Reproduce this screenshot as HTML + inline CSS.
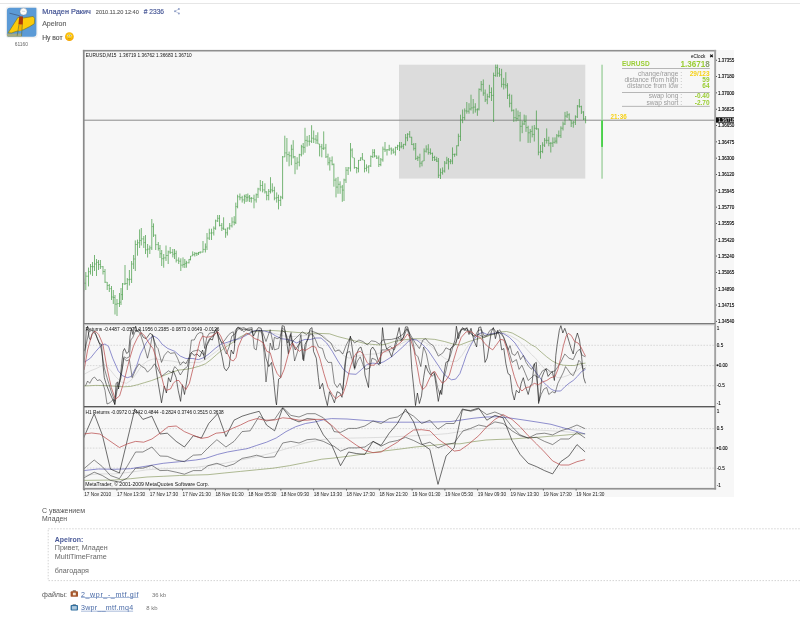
<!DOCTYPE html>
<html><head><meta charset="utf-8"><title>forum post</title>
<style>
html,body{margin:0;padding:0;background:#fff;}
body{width:800px;height:617px;position:relative;overflow:hidden;font-family:"Liberation Sans",sans-serif;color:#555;}
.a{position:absolute;white-space:nowrap;line-height:1;will-change:transform;}
svg text{font-family:"Liberation Sans",sans-serif;}
.lk{font-size:7.2px;color:#40609f;text-decoration:underline;text-decoration-thickness:0.55px;text-underline-offset:1px;}
</style></head><body>
<div class="a" style="left:0;top:2.6px;width:800px;height:1px;background:#e6e6e6"></div>
<svg class="a" style="left:0;top:0" width="800" height="617" viewBox="0 0 800 617">
<!-- avatar -->
<rect x="5.7" y="6.6" width="32" height="31.6" rx="3.4" fill="#f1f1f1"/>
<clipPath id="av"><path d="M9.9 7.8H35.6A0.8 0.8 0 0 1 36.4 8.6V33.5A3.2 3.2 0 0 1 33.199999999999996 36.7H8.3A1.4 1.4 0 0 1 6.9 35.300000000000004V10.8A3.0 3.0 0 0 1 9.9 7.8Z"/></clipPath>
<g clip-path="url(#av)">
<rect x="6" y="7" width="32" height="31" fill="#5b9ad6"/>
<path d="M6 33.7 L21.5 33.5 L22 37 L6 37 Z" fill="#a5aa82"/>
<path d="M8.2 32.8 L18 17.3 L23.3 18 L33.2 16.4 L34.7 18.6 L34.3 23.8 L29.7 26.6 L23.3 29.8 L15.7 31.5 L11.6 33 Z" fill="#fccb0a" stroke="#7a7a2a" stroke-width="0.7" stroke-linejoin="round"/>
<path d="M19.3 16.2 L23 16.6 L22.8 24.8 L18.4 24.6 Z" fill="#a8380c"/>
<path d="M18.9 24.8 L18.4 31 L21.9 30.6 L22.3 24.8 Z" fill="#f5b400"/>
<path d="M9.5 13.2 L19.8 15.8" stroke="#3a4a6a" stroke-width="0.6"/>
<path d="M18.9 24.8 L17.2 35.8 M22.3 24.8 L21.5 36" stroke="#5a6a3a" stroke-width="0.6"/>
<circle cx="23.5" cy="11.6" r="3.5" fill="#fdfdfd" stroke="#8a8a8a" stroke-width="0.4"/>
<path d="M21.8 11.2 L25.2 11.4" stroke="#aaa" stroke-width="0.4"/>
</g>
<text x="21.4" y="46" font-size="4.9" fill="#666" text-anchor="middle">61160</text>
<!-- smiley -->
<defs><radialGradient id="sm" cx="0.5" cy="0.42" r="0.55"><stop offset="0" stop-color="#ffe040"/><stop offset="0.6" stop-color="#fbc20a"/><stop offset="1" stop-color="#f3a000"/></radialGradient></defs>
<circle cx="69.4" cy="36.7" r="4.35" fill="url(#sm)"/>
<ellipse cx="68.2" cy="35.6" rx="0.95" ry="0.85" fill="#fff6d0"/><ellipse cx="70.6" cy="35.6" rx="0.95" ry="0.85" fill="#fff6d0"/>
<circle cx="68.3" cy="35.7" r="0.5" fill="#6a6a6a"/><circle cx="70.5" cy="35.7" r="0.5" fill="#6a6a6a"/>
<path d="M68.1 38.5 Q69.4 39 70.7 38.5" stroke="#b07a00" stroke-width="0.55" fill="none"/>
<!-- share icon -->
<g fill="#93a2c8"><circle cx="175" cy="11.2" r="1"/><circle cx="178.9" cy="9" r="1"/><circle cx="178.9" cy="13.4" r="1"/></g>
<path d="M178.9 9L175 11.2L178.9 13.4" stroke="#93a2c8" stroke-width="0.55" fill="none"/>
<rect x="83" y="50" width="651" height="447" fill="#f7f7f7"/>
<rect x="399" y="64.7" width="186.3" height="113.9" fill="#dcdcdc"/>
<rect x="84" y="119.7" width="631" height="1" fill="#8c8c8c"/>
<rect x="601.3" y="64.7" width="1.5" height="114" fill="#a6d3a6"/>
<rect x="601.2" y="120.4" width="1.7" height="26.5" fill="#3fd03f"/>
<path d="M83.7 278.7V291.5M85.8 272.0V290.0M88.5 267.6V286.4M90.5 264.0V274.5M92.5 262.0V276.0M94.5 255.0V271.0M96.5 259.0V276.0M98.5 260.0V270.0M100.4 260.0V269.0M103.0 266.0V274.5M105.0 269.0V283.0M107.2 282.0V290.0M109.3 284.0V292.0M111.5 286.0V300.0M113.3 290.0V304.0M115.0 295.0V314.5M117.0 299.0V316.0M119.5 293.0V307.0M121.0 288.0V305.0M122.5 283.0V300.0M125.0 265.0V285.0M127.3 278.0V290.0M129.4 270.0V285.5M131.6 261.0V283.0M133.6 255.0V269.0M135.3 240.4V271.0M137.5 239.6V255.7M139.6 229.4V248.0M141.3 228.0V245.5M143.8 236.0V248.0M145.5 235.0V254.0M147.6 244.0V257.5M149.8 245.5V254.0M151.8 219.0V250.0M153.5 223.4V237.0M155.7 234.5V250.0M158.3 242.0V250.6M160.0 245.0V258.0M161.7 250.0V266.0M163.7 254.0V267.7M166.0 245.5V261.0M168.2 250.6V264.0M170.2 247.0V254.0M172.8 249.0V257.4M174.5 249.0V259.0M176.2 250.6V262.5M178.7 257.4V264.0M180.8 258.3V271.0M183.0 257.4V267.7M184.8 259.0V268.0M186.4 260.8V267.7M189.0 259.0V263.4M190.5 256.0V260.4M192.7 251.4V256.0M194.8 252.0V256.5M196.8 252.5V256.0M198.5 252.0V255.0M200.2 251.4V253.6M203.0 241.0V252.5M205.4 243.4V252.5M207.0 233.0V250.0M209.3 228.7V240.0M211.5 228.7V240.0M213.8 226.4V235.5M215.6 219.6V229.8M217.7 215.0V222.0M219.5 215.0V226.4M221.8 223.0V231.0M223.6 217.3V229.8M225.6 228.7V237.8M227.4 227.5V235.5M229.7 223.0V229.8M232.0 217.3V227.5M234.2 216.2V225.3M235.8 202.6V224.0M237.6 194.7V208.3M239.9 193.5V200.3M242.2 195.8V202.6M244.4 194.7V203.7M246.1 194.0V202.0M247.8 193.5V201.5M249.6 195.0V202.0M251.3 197.0V202.6M254.0 194.7V208.3M256.2 193.5V202.6M258.0 187.8V198.0M260.3 180.0V191.3M262.6 181.0V192.4M264.9 183.3V193.5M266.7 191.3V200.3M268.7 189.0V200.3M270.5 177.2V193.5M272.3 183.3V192.4M274.4 186.7V200.3M276.7 192.4V202.6M278.5 194.7V209.4M280.7 195.8V206.0M282.6 156.0V199.2M284.8 135.7V157.2M286.9 138.0V161.8M289.1 151.6V166.3M291.4 144.7V165.2M293.2 140.2V158.4M295.0 156.0V174.2M297.1 157.2V169.7M299.3 153.8V166.3M301.4 144.8V156.4M303.2 143.0V154.6M305.0 127.8V152.8M307.1 135.9V146.6M309.3 135.0V145.7M311.6 125.2V143.0M313.7 130.5V143.0M316.0 135.0V143.9M317.8 132.3V143.9M319.6 143.9V156.4M321.8 143.9V157.3M323.7 131.4V150.0M325.9 143.9V158.0M328.0 153.7V165.3M329.8 157.3V170.6M332.1 156.4V165.3M333.9 163.5V186.7M336.0 177.8V197.4M338.0 176.9V193.8M340.1 181.3V193.8M342.3 184.9V201.8M344.0 178.7V201.0M346.0 167.0V183.0M348.1 167.0V175.0M350.5 143.0V171.5M352.2 148.3V157.3M354.4 158.0V168.8M356.7 167.0V173.3M358.5 160.0V172.4M360.6 157.3V160.8M362.4 153.0V160.0M364.5 160.0V172.4M366.5 164.4V171.5M368.7 165.3V173.3M370.8 155.5V167.0M372.8 149.2V158.0M374.5 149.2V157.3M376.7 155.5V159.0M378.8 155.5V167.0M380.8 158.0V166.2M382.9 146.6V161.7M385.0 142.0V152.0M387.0 149.2V155.5M389.2 144.8V151.0M391.3 147.4V154.6M393.3 148.3V153.7M395.4 146.6V155.5M397.5 144.8V150.0M399.5 142.0V151.0M401.3 142.0V148.3M403.4 143.9V149.2M405.6 134.0V145.7M407.5 133.2V141.2M409.7 131.0V137.6M411.7 136.8V145.0M413.8 143.0V150.5M415.7 143.0V160.0M417.8 155.8V161.0M419.9 153.7V167.4M422.0 161.0V166.3M424.1 148.4V161.0M426.2 145.3V152.6M428.3 144.2V154.7M430.4 148.4V154.7M432.5 152.6V161.0M434.6 155.8V161.0M436.7 156.8V162.0M438.4 158.0V178.0M440.5 168.4V179.0M442.6 167.4V174.7M444.7 161.0V172.6M446.8 156.8V164.2M448.5 158.0V169.5M450.6 159.0V164.2M452.5 147.4V164.2M454.6 153.7V156.8M456.7 145.3V155.8M458.4 133.7V146.3M460.5 114.7V141.0M462.6 109.5V123.2M464.7 108.4V120.0M466.8 102.0V113.7M469.0 103.2V113.7M471.0 94.7V110.5M473.2 99.0V113.7M475.3 103.2V112.6M477.4 108.4V115.8M479.0 88.4V110.5M481.2 81.0V91.6M483.3 79.4V95.8M485.2 89.5V102.0M487.3 93.7V104.2M489.4 84.8V97.9M491.5 87.4V101.0M493.6 72.6V122.0M495.7 64.6V76.8M497.4 64.6V76.8M499.5 68.0V76.8M501.6 68.8V87.4M503.7 77.9V89.5M505.8 72.2V88.4M507.5 83.2V99.0M509.6 93.7V107.4M511.7 94.7V111.6M513.8 109.5V122.0M516.1 108.4V121.5M518.0 110.5V120.8M520.1 111.9V141.5M522.2 120.8V133.2M524.2 114.6V125.0M526.0 115.3V131.9M528.1 125.7V142.9M530.2 129.0V142.9M532.2 125.7V137.4M534.3 125.0V141.5M536.4 110.5V129.8M538.4 128.4V155.3M540.5 145.0V158.7M542.6 142.2V153.2M544.6 138.0V147.0M546.7 128.4V143.6M548.8 136.7V146.3M550.8 142.2V152.5M552.9 137.4V147.0M555.0 137.4V143.6M556.8 134.0V143.6M558.8 130.5V137.4M560.9 126.3V138.0M563.0 121.5V130.5M565.0 111.9V125.0M567.1 111.2V118.0M569.2 113.3V120.0M571.2 120.0V127.0M573.3 120.8V127.7M575.4 115.3V125.0M577.4 105.0V118.0M579.4 99.0V107.7M581.4 105.7V114.0M583.5 111.2V120.0M585.6 116.0V123.3" stroke="#3f9a3f" stroke-width="0.9" stroke-opacity="0.78" fill="none"/>
<path d="M83.7 283.2H85.8M85.8 276.2H88.5M88.5 271.7H90.5M90.5 266.6H92.5M92.5 266.7H94.5M94.5 264.0H96.5M96.5 262.3H98.5M98.5 264.5H100.4M100.4 266.7H103.0M103.0 271.5H105.0M105.0 282.2H107.2M107.2 285.5H109.3M109.3 288.7H111.5M111.5 297.0H113.3M113.3 297.5H115.0M115.0 304.2H117.0M117.0 303.6H119.5M119.5 302.2H121.0M121.0 294.6H122.5M122.5 283.9H125.0M125.0 283.5H127.3M127.3 279.7H129.4M129.4 279.3H131.6M131.6 264.0H133.6M133.6 259.0H135.3M135.3 244.5H137.5M137.5 242.8H139.6M139.6 240.5H141.3M141.3 238.9H143.8M143.8 242.6H145.5M145.5 249.8H147.6M147.6 249.1H149.8M149.8 247.9H151.8M151.8 226.6H153.5M153.5 235.1H155.7M155.7 244.6H158.3M158.3 248.4H160.0M160.0 253.7H161.7M161.7 258.7H163.7M163.7 257.9H166.0M166.0 255.5H168.2M168.2 251.9H170.2M170.2 252.4H172.8M172.8 254.2H174.5M174.5 253.5H176.2M176.2 260.2H178.7M178.7 261.2H180.8M180.8 265.1H183.0M183.0 264.5H184.8M184.8 263.4H186.4M186.4 262.8H189.0M189.0 259.4H190.5M190.5 256.0H192.7M192.7 254.6H194.8M194.8 253.5H196.8M196.8 253.7H198.5M198.5 252.4H200.2M200.2 252.1H203.0M203.0 249.4H205.4M205.4 247.0H207.0M207.0 238.1H209.3M209.3 233.1H211.5M211.5 232.9H213.8M213.8 228.3H215.6M215.6 220.9H217.7M217.7 218.3H219.5M219.5 225.4H221.8M221.8 228.2H223.6M223.6 229.2H225.6M225.6 232.8H227.4M227.4 228.0H229.7M229.7 225.8H232.0M232.0 222.0H234.2M234.2 222.4H235.8M235.8 206.6H237.6M237.6 196.8H239.9M239.9 197.7H242.2M242.2 199.9H244.4M244.4 196.3H246.1M246.1 197.6H247.8M247.8 197.0H249.6M249.6 198.4H251.3M251.3 198.3H254.0M254.0 199.9H256.2M256.2 194.7H258.0M258.0 189.0H260.3M260.3 185.5H262.6M262.6 189.9H264.9M264.9 191.8H266.7M266.7 195.5H268.7M268.7 191.4H270.5M270.5 189.9H272.3M272.3 190.6H274.4M274.4 198.1H276.7M276.7 197.6H278.5M278.5 200.4H280.7M280.7 197.2H282.6M282.6 156.9H284.8M284.8 152.9H286.9M286.9 154.6H289.1M289.1 155.8H291.4M291.4 149.3H293.2M293.2 156.8H295.0M295.0 163.3H297.1M297.1 162.2H299.3M299.3 154.7H301.4M301.4 146.8H303.2M303.2 147.4H305.0M305.0 140.4H307.1M307.1 141.2H309.3M309.3 141.2H311.6M311.6 138.2H313.7M313.7 139.1H316.0M316.0 140.1H317.8M317.8 143.9H319.6M319.6 146.8H321.8M321.8 148.4H323.7M323.7 148.0H325.9M325.9 156.8H328.0M328.0 162.7H329.8M329.8 160.8H332.1M332.1 164.3H333.9M333.9 180.1H336.0M336.0 187.1H338.0M338.0 184.3H340.1M340.1 187.0H342.3M342.3 190.1H344.0M344.0 180.0H346.0M346.0 170.2H348.1M348.1 168.0H350.5M350.5 150.1H352.2M352.2 157.7H354.4M354.4 167.5H356.7M356.7 168.4H358.5M358.5 160.3H360.6M360.6 157.9H362.4M362.4 160.0H364.5M364.5 168.4H366.5M366.5 167.1H368.7M368.7 165.9H370.8M370.8 156.5H372.8M372.8 152.6H374.5M374.5 156.0H376.7M376.7 158.0H378.8M378.8 164.5H380.8M380.8 159.8H382.9M382.9 149.2H385.0M385.0 149.9H387.0M387.0 149.7H389.2M389.2 148.9H391.3M391.3 150.2H393.3M393.3 152.1H395.4M395.4 147.6H397.5M397.5 145.9H399.5M399.5 146.9H401.3M401.3 146.2H403.4M403.4 144.4H405.6M405.6 137.8H407.5M407.5 134.2H409.7M409.7 137.2H411.7M411.7 144.6H413.8M413.8 148.4H415.7M415.7 158.4H417.8M417.8 157.7H419.9M419.9 163.2H422.0M422.0 161.0H424.1M424.1 151.2H426.2M426.2 149.1H428.3M428.3 152.6H430.4M430.4 153.4H432.5M432.5 157.5H434.6M434.6 159.7H436.7M436.7 161.2H438.4M438.4 175.2H440.5M440.5 172.7H442.6M442.6 171.0H444.7M444.7 163.1H446.8M446.8 160.1H448.5M448.5 161.7H450.6M450.6 161.1H452.5M452.5 154.4H454.6M454.6 154.2H456.7M456.7 145.7H458.4M458.4 136.3H460.5M460.5 119.9H462.6M462.6 117.6H464.7M464.7 110.9H466.8M466.8 111.2H469.0M469.0 109.0H471.0M471.0 107.9H473.2M473.2 107.1H475.3M475.3 109.8H477.4M477.4 109.1H479.0M479.0 89.4H481.2M481.2 84.4H483.3M483.3 93.1H485.2M485.2 99.8H487.3M487.3 96.7H489.4M489.4 92.5H491.5M491.5 95.4H493.6M493.6 75.5H495.7M495.7 67.7H497.4M497.4 73.2H499.5M499.5 74.8H501.6M501.6 84.3H503.7M503.7 84.7H505.8M505.8 85.7H507.5M507.5 95.3H509.6M509.6 103.3H511.7M511.7 110.3H513.8M513.8 117.7H516.1M516.1 118.6H518.0M518.0 115.8H520.1M520.1 126.3H522.2M522.2 124.0H524.2M524.2 121.5H526.0M526.0 127.6H528.1M528.1 132.8H530.2M530.2 131.4H532.2M532.2 134.4H534.3M534.3 128.3H536.4M536.4 128.8H538.4M538.4 152.2H540.5M540.5 151.5H542.6M542.6 145.1H544.6M544.6 140.3H546.7M546.7 140.4H548.8M548.8 143.3H550.8M550.8 143.2H552.9M552.9 142.3H555.0M555.0 141.1H556.8M556.8 135.8H558.8M558.8 135.7H560.9M560.9 128.2H563.0M563.0 124.0H565.0M565.0 116.1H567.1M567.1 114.8H569.2M569.2 120.0H571.2M571.2 123.1H573.3M573.3 122.2H575.4M575.4 116.8H577.4M577.4 106.0H579.4M579.4 106.6H581.4M581.4 112.0H583.5M583.5 119.0H585.6" stroke="#3f9a3f" stroke-width="0.8" stroke-opacity="0.6" fill="none"/>
<line x1="84" x2="715" y1="345.3" y2="345.3" stroke="#cfcfcf" stroke-width="0.8" stroke-dasharray="1.55 1.4"/>
<line x1="84" x2="715" y1="365.6" y2="365.6" stroke="#cfcfcf" stroke-width="0.8" stroke-dasharray="1.55 1.4"/>
<line x1="84" x2="715" y1="385.7" y2="385.7" stroke="#cfcfcf" stroke-width="0.8" stroke-dasharray="1.55 1.4"/>
<line x1="84" x2="715" y1="428.6" y2="428.6" stroke="#cfcfcf" stroke-width="0.8" stroke-dasharray="1.55 1.4"/>
<line x1="84" x2="715" y1="448.1" y2="448.1" stroke="#cfcfcf" stroke-width="0.8" stroke-dasharray="1.55 1.4"/>
<line x1="84" x2="715" y1="468.1" y2="468.1" stroke="#cfcfcf" stroke-width="0.8" stroke-dasharray="1.55 1.4"/>
<polyline points="84.1,374.3 90.4,370.8 95.9,368.7 100.1,366.6 104.3,364.5 109.9,369.4 115.4,376.4 121.0,382.0 126.6,383.3 130.8,380.5 136.4,373.6 141.9,365.2 147.5,361.0 153.1,359.0 157.3,359.0 163.6,360.3 172.0,361.0 178.9,362.4 185.9,362.7 194.2,362.4 199.8,362.4 205.4,359.6 211.0,355.4 216.5,351.3 222.1,347.0 227.7,343.6 233.3,340.8 242.4,336.0 253.5,332.0 264.7,331.5 275.8,333.8 284.2,336.0 292.5,336.6 300.9,336.0 309.3,335.2 318.4,334.5 323.9,336.0 330.9,343.0 337.9,349.9 343.4,355.4 349.0,358.2 354.6,356.8 360.2,355.4 365.7,354.7 371.3,354.0 376.9,354.0 382.5,352.0 388.0,352.0 393.0,349.2 399.9,344.3 406.9,340.8 413.9,339.4 422.2,340.8 430.6,345.7 437.6,352.7 444.5,358.2 451.5,361.7 457.1,361.0 462.0,355.4 466.2,348.5 470.4,343.0 475.9,338.7 482.9,336.0 489.9,333.8 496.8,332.5 503.8,333.0 510.8,336.0 517.7,340.0 524.7,347.0 531.7,354.7 535.6,358.2 541.1,365.2 546.7,370.8 552.3,375.0 557.9,377.7 563.4,377.0 569.0,375.0 574.6,372.2 580.2,368.0 585.5,365.2" fill="none" stroke="#d6d6d6" stroke-width="0.8" stroke-opacity="1.0" stroke-linejoin="round"/>
<polyline points="84.1,386.0 95.9,385.4 109.9,385.8 123.8,386.8 130.8,386.4 137.7,384.7 144.7,382.6 151.7,380.5 157.3,378.4 165.0,375.0 172.0,372.2 178.9,370.0 185.9,369.4 192.8,368.0 199.8,366.0 205.4,363.8 211.0,359.6 216.5,354.7 222.1,349.9 227.7,345.7 233.3,342.2 239.6,337.3 245.1,334.5 253.5,331.8 261.9,330.6 270.2,330.4 280.0,331.0 289.8,331.8 298.1,332.5 306.5,333.0 318.4,333.4 329.5,333.8 337.9,336.6 346.2,338.7 354.6,340.8 363.0,343.0 371.3,344.3 379.7,345.0 385.3,344.3 394.4,341.5 402.7,340.0 413.9,338.7 425.0,338.7 434.8,339.4 444.5,341.5 452.9,344.0 459.9,345.0 469.0,341.5 475.9,339.4 484.3,337.3 492.7,334.5 501.0,331.8 506.6,331.5 512.2,333.0 517.7,336.0 524.7,340.0 531.7,345.0 535.6,347.0 541.1,352.0 546.7,356.8 552.3,361.0 557.9,363.8 563.4,365.2 569.0,365.5 574.6,365.5 580.2,363.8 585.5,363.1" fill="none" stroke="#8a9a62" stroke-width="0.75" stroke-opacity="0.9" stroke-linejoin="round"/>
<polyline points="84.1,362.4 90.4,358.2 95.9,351.3 101.5,345.0 105.0,344.0 108.5,346.4 112.7,358.2 118.2,370.8 122.4,375.7 127.3,377.7 131.5,376.4 136.4,366.6 140.5,354.0 146.1,343.0 150.3,338.0 153.8,336.0 158.0,338.7 162.2,344.3 167.8,348.5 174.7,351.3 180.3,356.1 185.9,358.5 192.8,358.5 198.4,359.6 204.0,357.5 209.6,353.4 215.1,348.5 220.7,344.3 227.7,342.2 233.3,340.0 239.6,338.7 246.5,335.2 253.5,331.0 259.0,330.4 264.7,331.0 270.2,332.5 275.8,336.0 281.4,338.7 287.0,339.4 292.5,340.8 296.7,343.0 300.9,340.8 305.1,339.4 310.0,339.6 315.6,338.0 321.1,338.0 326.7,343.0 332.3,351.3 337.9,361.0 343.4,369.4 349.0,373.8 356.0,374.3 361.6,369.4 367.1,364.5 372.7,363.1 378.3,363.8 383.9,361.7 391.6,356.8 397.1,352.0 402.7,347.0 408.3,341.5 412.5,339.4 416.7,340.0 422.2,344.3 427.8,349.9 433.4,358.2 439.0,366.6 443.1,372.9 447.3,377.0 451.5,379.8 455.7,379.1 459.9,373.6 463.4,363.8 466.2,355.4 470.4,345.7 474.5,338.7 478.7,333.8 482.9,332.5 487.1,334.5 492.7,333.8 498.2,332.5 503.8,333.8 509.4,337.3 515.0,343.0 520.5,351.3 526.1,359.6 531.7,366.6 534.2,370.0 538.4,375.7 542.5,381.2 546.7,385.4 550.9,389.0 555.1,391.0 560.7,391.0 564.8,386.8 569.0,383.3 573.2,380.5 577.4,376.4 581.6,371.5 585.5,369.4" fill="none" stroke="#5a5ab8" stroke-width="0.75" stroke-opacity="0.9" stroke-linejoin="round"/>
<polyline points="85.5,386.0 87.6,381.0 89.7,383.3 92.5,378.4 94.5,377.0 97.3,380.5 100.1,379.8 102.9,383.3 105.0,390.3 107.0,404.0 109.9,402.8 113.4,399.3 114.8,405.0 116.8,391.7 121.0,377.7 123.8,358.2 126.6,361.0 129.4,359.6 132.2,377.7 136.4,368.0 139.1,363.8 141.9,366.6 144.7,368.0 147.5,372.2 151.7,368.0 154.5,363.8 157.3,368.0 161.5,376.4 165.0,373.6 168.5,370.8 172.0,372.9 174.7,366.6 177.5,369.4 180.3,375.0 183.8,369.4 187.3,366.6 190.0,354.0 192.8,351.3 195.6,350.6 198.4,349.9 201.2,352.0 204.0,355.4 206.1,347.0 208.2,343.0 211.0,337.3 213.7,336.0 216.5,331.8 219.3,337.3 222.1,344.3 226.3,354.0 229.1,347.0 231.9,336.0 235.0,334.0 238.2,329.0 243.8,327.6 247.9,329.7 252.1,331.8 256.3,330.4 261.9,330.4 266.0,341.5 270.2,329.7 274.4,349.9 278.6,348.5 282.1,330.4 285.6,333.0 289.8,345.7 293.9,340.0 298.1,336.0 302.3,331.8 306.5,334.5 310.7,330.8 315.6,332.5 321.1,335.2 326.7,340.0 330.9,343.0 335.0,351.3 339.3,349.9 342.8,354.0 346.2,345.0 350.4,337.3 354.6,343.0 358.8,340.0 363.0,341.5 367.1,345.0 371.3,340.8 375.5,341.5 379.7,344.3 382.5,340.0 386.7,339.6 391.6,339.4 397.1,338.0 402.7,334.5 406.9,328.3 411.1,336.0 415.3,343.0 419.4,348.5 422.9,340.0 425.7,338.7 429.2,343.0 433.4,345.7 438.3,356.1 443.1,352.7 445.9,347.8 450.1,349.9 452.9,345.7 455.7,343.0 458.5,334.5 462.0,329.5 467.6,330.4 473.1,336.0 478.7,334.5 484.3,337.3 489.9,334.5 495.4,333.8 499.6,332.5 503.8,337.3 508.0,348.5 512.2,362.4 516.4,359.6 519.1,369.4 521.9,365.2 525.4,373.6 528.2,380.5 531.0,378.0 534.2,375.0 538.4,377.7 542.5,370.8 546.7,368.7 550.9,372.2 555.1,370.8 557.9,366.6 560.7,362.4 564.8,354.0 569.0,358.2 573.2,359.6 576.7,352.0 579.5,349.2 582.3,355.4 585.5,356.8" fill="none" stroke="#222" stroke-width="0.7" stroke-opacity="0.75" stroke-linejoin="round"/>
<polyline points="84.1,362.0 86.0,345.0 89.0,331.8 91.8,330.4 95.9,334.5 99.4,343.0 101.5,350.0 104.3,368.0 107.0,377.7 111.3,391.7 114.8,401.4 116.8,387.5 119.6,380.5 122.4,368.0 123.8,356.8 126.6,358.2 129.4,356.8 130.8,340.0 132.9,337.3 135.0,331.8 137.7,330.4 140.5,334.5 144.0,345.7 147.5,358.2 150.3,347.0 152.4,334.5 154.5,341.5 156.6,347.0 158.0,348.5 161.5,362.4 164.3,355.4 167.8,351.3 170.5,353.4 174.7,352.7 177.5,358.2 180.3,365.2 183.1,361.7 185.9,363.8 189.4,356.8 191.4,340.0 194.2,340.0 197.0,334.5 199.8,332.5 202.6,333.0 204.7,348.5 206.8,337.3 209.6,333.0 213.7,332.5 216.5,328.3 218.6,337.3 222.1,343.0 224.9,340.0 227.7,336.0 230.5,333.0 233.3,331.8 234.5,343.0 236.8,328.3 240.3,327.6 243.8,331.8 247.9,328.3 252.1,327.6 254.2,348.5 256.3,349.9 259.0,330.4 261.9,333.0 264.0,352.7 266.0,382.0 268.1,363.8 270.2,343.0 272.3,349.9 274.4,337.3 277.2,338.7 280.0,337.3 282.1,327.6 284.9,330.4 287.7,343.0 291.1,332.5 294.6,361.0 298.1,349.9 300.9,334.5 303.7,361.0 306.5,343.0 310.0,334.0 312.8,334.5 315.6,340.0 318.4,347.0 322.5,348.5 325.3,358.2 328.1,362.4 331.6,362.4 334.4,383.3 337.2,387.5 340.0,383.3 342.8,390.3 344.8,363.8 346.9,352.7 349.7,351.3 351.8,358.2 354.6,369.4 357.4,361.0 360.2,356.8 363.7,366.6 365.7,369.4 369.9,368.0 372.0,358.2 375.5,359.6 379.0,365.2 381.8,349.9 385.3,350.0 390.2,346.4 394.4,349.9 398.5,337.3 401.3,341.5 404.1,336.0 406.9,329.0 409.7,336.0 412.5,340.0 415.3,354.0 418.0,356.8 420.8,366.6 423.6,347.0 426.4,354.0 429.2,368.0 432.0,376.4 434.8,373.6 437.6,387.5 439.7,394.5 441.7,389.0 443.8,377.7 445.9,370.8 448.0,361.0 450.1,356.8 452.9,347.0 455.7,344.3 458.5,333.0 462.0,328.8 466.2,328.3 470.4,331.8 474.5,337.3 478.0,330.4 481.5,329.7 484.3,336.0 487.1,335.2 489.9,330.4 493.4,328.3 496.8,333.0 499.6,329.7 502.4,334.5 505.2,341.5 508.0,349.9 510.1,345.7 512.2,354.0 515.0,355.4 517.7,351.3 520.5,359.6 523.3,355.4 526.1,362.4 528.9,366.6 531.7,369.4 534.5,364.0 535.6,370.8 537.7,387.5 539.0,401.4 541.1,394.5 543.9,389.0 546.7,387.5 548.8,394.5 552.3,391.7 555.1,393.0 557.9,383.3 560.7,377.7 563.4,372.2 565.5,366.6 567.6,369.4 570.4,373.6 573.2,375.7 576.0,369.4 578.8,360.3 580.9,362.4 583.0,369.4 585.5,368.0" fill="none" stroke="#222" stroke-width="0.7" stroke-opacity="0.75" stroke-linejoin="round"/>
<polyline points="84.1,351.3 85.5,347.0 86.2,330.4 87.6,326.2 89.0,337.3 90.4,340.0 92.5,333.0 94.5,331.0 97.3,338.7 99.4,343.6 101.5,344.3 102.9,363.8 104.3,377.7 106.4,384.7 109.2,391.7 112.0,398.0 114.8,404.0 116.1,383.3 117.5,382.0 118.5,389.0 120.3,377.7 121.7,363.8 123.1,351.3 124.5,348.5 126.6,353.4 128.7,352.0 130.1,336.0 131.5,328.3 132.9,334.5 134.3,328.3 135.7,326.2 137.1,331.8 139.1,329.0 140.5,331.8 143.3,337.3 146.1,338.7 150.3,333.0 153.1,336.0 154.5,344.3 155.9,368.0 158.0,382.0 161.5,402.8 164.3,386.0 166.4,393.0 168.5,377.7 170.5,382.0 173.3,370.8 176.1,377.7 178.2,390.3 180.6,401.4 182.4,384.7 184.5,394.5 187.3,377.7 189.4,359.6 191.4,352.7 194.2,355.4 197.0,354.0 199.8,356.8 202.6,350.0 204.7,359.6 206.8,344.3 209.6,338.7 212.4,340.0 215.1,330.4 217.2,331.8 219.3,344.3 222.1,356.8 224.2,368.0 226.3,370.8 229.1,366.6 231.2,350.0 233.3,354.0 234.3,349.9 235.4,330.4 238.2,326.9 241.0,330.4 243.8,329.0 247.9,330.4 251.4,329.0 253.5,336.0 255.6,331.8 258.4,327.6 261.2,328.3 263.3,341.5 266.0,358.2 268.8,366.6 271.6,362.4 273.7,380.5 275.8,401.4 276.5,404.9 278.6,379.1 280.7,377.7 282.1,325.5 284.2,326.2 286.3,338.7 288.4,354.0 290.4,334.5 292.5,343.0 295.3,349.9 298.1,345.7 300.9,341.5 303.0,359.6 305.1,344.3 307.9,338.7 310.0,329.0 312.0,327.6 313.5,351.3 316.3,358.2 318.4,377.7 319.8,389.0 322.5,383.3 324.6,394.5 327.4,405.6 329.5,391.7 332.3,397.3 334.4,402.8 337.2,391.7 340.0,393.0 342.0,397.3 344.1,377.7 346.2,356.8 348.3,347.0 350.4,336.0 352.5,349.9 354.6,368.0 356.7,354.0 358.8,348.5 360.9,347.0 363.0,354.0 365.0,375.0 368.5,387.5 370.6,349.9 372.7,347.0 375.5,351.3 378.3,361.0 380.4,363.8 382.5,327.6 383.9,340.0 386.7,349.0 388.8,349.9 391.6,356.8 394.4,347.0 397.1,336.0 399.2,327.6 401.3,340.0 403.4,337.3 405.5,326.9 407.6,326.9 409.7,334.5 411.8,369.4 413.9,389.0 415.5,405.6 417.4,393.0 419.4,403.5 421.5,395.9 423.6,377.7 425.7,365.2 427.8,370.8 430.6,375.0 434.1,372.2 436.2,386.0 438.3,401.4 440.4,390.3 441.7,394.5 443.8,375.0 445.9,362.4 448.7,361.0 450.8,348.5 452.9,346.4 455.0,340.0 456.4,326.2 458.5,338.7 461.3,329.0 462.8,327.6 464.8,330.4 466.9,327.6 469.0,334.5 471.0,328.3 473.8,340.0 476.6,347.0 478.7,327.6 480.8,326.9 482.9,340.0 485.0,362.4 487.1,358.2 489.2,345.7 491.3,331.8 493.4,327.6 495.4,338.7 497.5,330.4 499.6,336.0 501.7,349.9 503.8,348.5 505.9,363.8 508.0,373.6 510.1,375.0 512.2,391.7 514.3,400.0 516.4,390.3 519.1,393.0 521.2,383.3 523.3,377.7 525.4,386.0 528.2,394.5 530.3,386.0 532.0,383.3 534.2,363.8 536.3,362.4 537.7,386.0 538.6,403.5 540.5,391.7 541.8,377.7 543.9,372.2 546.0,368.7 548.1,376.4 550.2,373.6 552.3,371.5 554.4,380.5 555.8,355.4 557.2,344.3 559.3,330.4 560.9,325.5 562.8,333.0 564.8,328.3 566.9,334.5 569.0,341.5 571.1,348.5 573.2,354.0 575.3,340.0 577.4,333.0 579.5,340.0 581.6,356.8 583.7,377.7 585.5,383.3" fill="none" stroke="#111" stroke-width="0.75" stroke-opacity="0.8" stroke-linejoin="round"/>
<polyline points="84.1,370.0 87.6,350.0 91.8,334.5 95.2,331.0 98.7,334.5 102.9,344.3 107.0,368.0 111.3,387.5 115.4,399.3 119.6,395.9 123.8,382.0 129.4,359.6 133.6,345.7 137.7,337.3 141.2,332.5 144.7,336.0 148.9,343.0 153.0,348.5 157.3,361.0 160.8,373.6 164.3,387.5 166.4,390.3 170.5,389.0 173.3,383.3 176.1,380.5 178.9,380.5 181.7,384.7 185.9,389.6 189.4,383.3 192.8,369.4 197.0,352.7 199.8,341.5 202.6,336.0 206.1,337.3 211.0,336.6 215.1,333.8 217.9,331.8 220.7,336.0 224.2,344.3 227.7,354.0 230.5,359.6 233.3,361.0 236.0,357.5 238.2,347.0 242.4,337.3 246.5,333.0 250.7,335.2 254.9,338.7 259.0,340.0 263.3,343.0 266.8,351.3 270.2,352.7 273.7,365.2 277.2,373.6 280.7,377.7 284.2,369.4 288.4,354.0 292.5,343.0 296.0,348.5 299.5,351.3 302.3,349.2 305.1,350.6 308.6,348.5 312.0,346.4 315.6,347.0 319.8,358.2 323.9,373.6 328.1,387.5 332.3,394.5 335.8,398.7 339.3,395.9 342.8,394.5 346.2,384.7 349.7,369.4 353.2,358.2 356.7,352.7 360.2,351.3 363.0,354.0 367.1,362.4 369.9,365.2 374.1,365.2 378.3,361.0 382.5,352.7 386.0,351.0 390.2,349.2 394.4,347.0 399.9,343.0 404.1,338.7 407.6,333.8 410.4,338.7 413.9,349.9 417.4,368.0 420.1,383.3 422.5,389.6 425.7,386.8 429.2,379.1 432.7,372.2 434.8,371.5 438.3,377.7 442.4,383.3 445.9,380.5 449.4,375.0 452.9,362.4 457.1,348.5 461.3,337.3 466.2,331.8 471.8,331.8 475.9,336.0 480.1,337.3 484.3,343.0 488.5,347.0 492.7,349.9 496.8,344.3 500.3,339.4 503.8,340.0 507.3,349.9 510.8,363.8 514.3,376.4 517.7,386.0 521.9,391.0 526.1,387.5 530.3,386.8 534.2,383.3 538.4,384.7 542.5,382.0 546.7,380.5 550.9,377.7 555.1,376.4 557.9,369.4 560.7,358.2 563.4,345.7 566.2,336.0 568.3,333.4 571.1,335.2 574.6,341.5 578.1,343.0 580.9,347.0 583.7,352.7 585.5,356.1" fill="none" stroke="#b84848" stroke-width="0.8" stroke-opacity="0.9" stroke-linejoin="round"/>
<polyline points="83.6,475.5 98.2,473.9 114.5,473.9 130.7,472.2 147.0,469.8 163.2,468.7 179.5,468.2 195.7,467.4 208.0,465.7 224.2,463.3 240.5,460.0 256.7,456.8 273.0,452.7 289.3,447.9 305.5,443.0 321.7,439.7 331.5,438.4 350.2,438.1 366.5,437.8 382.7,437.3 399.0,436.5 415.2,435.7 431.5,434.9 447.7,433.6 460.0,431.6 473.0,429.2 486.0,428.4 499.0,428.0 512.0,428.4 525.0,429.2 538.0,430.0 551.0,430.8 564.0,431.6 577.0,432.9 585.1,434.0" fill="none" stroke="#d6d6d6" stroke-width="0.8" stroke-opacity="1.0" stroke-linejoin="round"/>
<polyline points="83.6,480.4 114.5,480.0 130.7,478.7 147.0,477.0 163.2,476.3 179.5,475.5 195.7,475.0 208.0,474.7 224.2,473.0 240.5,471.4 256.7,469.8 273.0,468.2 289.3,465.7 305.5,462.5 321.7,459.2 334.0,458.0 350.2,456.0 366.5,453.6 382.7,451.1 399.0,449.2 415.2,447.0 431.5,445.4 447.7,443.8 460.0,443.8 473.0,441.7 486.0,440.0 499.0,439.4 512.0,439.0 525.0,438.0 538.0,437.3 551.0,436.2 564.0,435.2 577.0,434.0 585.1,433.7" fill="none" stroke="#8a9a62" stroke-width="0.75" stroke-opacity="0.9" stroke-linejoin="round"/>
<polyline points="83.6,470.6 98.2,469.0 114.5,469.3 130.7,468.7 147.0,466.0 163.2,463.3 179.5,461.7 195.7,460.0 205.5,458.4 217.7,454.4 227.5,452.0 237.2,450.3 247.0,448.7 256.7,445.4 266.5,442.2 276.2,438.0 286.0,431.6 295.7,426.7 305.5,423.5 315.2,421.9 325.0,419.4 331.5,418.6 347.0,419.0 360.0,420.0 373.0,421.0 386.0,422.2 399.0,422.2 412.0,422.2 425.0,422.2 438.0,421.9 451.0,421.5 460.0,420.2 473.0,418.3 486.0,417.0 499.0,416.7 512.0,418.3 525.0,420.2 538.0,422.2 551.0,424.3 564.0,428.0 577.0,431.6 585.1,434.0" fill="none" stroke="#5a5ab8" stroke-width="0.75" stroke-opacity="0.9" stroke-linejoin="round"/>
<polyline points="83.6,478.0 94.2,472.2 102.3,475.5 110.4,480.4 119.4,482.0 127.5,478.0 135.6,468.2 142.9,468.2 151.9,465.4 160.0,470.6 167.3,470.3 176.2,472.2 184.4,474.2 193.3,470.6 201.4,470.6 208.0,465.7 216.9,463.3 225.9,466.6 234.0,464.0 242.1,458.4 250.2,456.8 256.7,455.2 264.9,457.6 274.6,456.8 282.7,443.0 290.9,441.4 299.0,443.0 307.1,439.7 315.2,439.0 323.4,441.4 331.5,445.4 334.0,446.2 340.5,451.1 348.6,447.9 356.7,447.9 364.9,447.0 373.0,441.4 381.1,446.2 389.2,442.2 397.4,440.5 405.5,437.3 413.6,440.5 421.7,444.6 429.9,442.2 438.0,447.9 446.1,444.6 454.2,443.0 460.0,434.9 463.2,430.8 470.6,428.4 478.7,425.0 486.8,426.7 494.9,421.9 503.1,423.5 512.0,430.8 520.1,435.7 528.2,438.0 536.4,437.3 544.5,441.4 552.6,444.6 560.7,439.0 568.9,439.0 577.0,432.4 585.1,438.0" fill="none" stroke="#222" stroke-width="0.7" stroke-opacity="0.75" stroke-linejoin="round"/>
<polyline points="83.6,469.0 94.2,460.0 102.3,466.6 110.4,475.5 119.4,478.7 127.5,465.7 135.6,452.0 142.9,452.0 151.9,447.0 160.0,456.0 167.3,456.3 176.2,460.0 184.4,461.7 193.3,455.2 201.4,454.7 208.0,447.9 216.9,439.7 225.9,447.0 234.0,441.4 242.1,431.6 250.2,430.8 259.2,416.2 266.5,421.0 274.6,419.4 282.7,407.3 290.9,415.4 299.0,417.0 307.1,413.7 315.2,413.7 323.4,417.8 331.5,426.0 334.0,431.6 340.5,432.4 348.6,428.4 356.7,428.4 364.9,426.0 373.0,421.0 381.1,423.5 389.2,418.6 397.4,417.0 405.5,411.3 413.6,416.2 421.7,423.5 429.9,420.2 438.0,429.2 446.1,423.5 454.2,423.5 460.0,413.7 462.4,408.9 470.6,411.3 478.7,408.9 486.8,414.6 494.9,412.0 503.1,415.4 512.0,426.7 520.1,434.9 528.2,438.0 536.4,434.0 544.5,433.2 552.6,434.9 560.7,430.8 568.9,428.4 577.0,425.0 585.1,428.7" fill="none" stroke="#222" stroke-width="0.7" stroke-opacity="0.75" stroke-linejoin="round"/>
<polyline points="83.6,438.0 94.2,413.7 102.3,434.9 110.4,469.0 119.4,473.0 134.8,408.9 142.9,419.4 151.9,416.2 160.0,434.0 167.3,433.2 176.2,441.4 184.4,447.0 193.3,435.7 201.4,438.0 208.7,423.5 217.7,413.7 225.9,436.5 234.0,420.2 242.1,416.2 250.2,413.7 259.2,411.3 266.5,425.0 274.6,430.8 282.7,408.0 290.9,418.6 299.0,421.9 307.1,418.6 315.2,419.4 323.4,434.9 331.5,444.6 334.0,450.3 340.5,465.7 348.6,452.0 356.7,453.6 364.9,454.4 373.0,441.4 381.1,445.4 389.2,433.2 397.4,423.5 405.5,408.9 413.6,421.9 421.7,443.8 429.9,449.5 438.0,484.4 446.1,456.0 454.2,447.9 462.4,409.7 470.6,410.5 478.7,408.0 486.8,420.2 494.9,415.4 503.1,417.8 512.0,440.5 520.1,454.4 528.2,463.3 536.4,466.6 544.5,470.6 552.6,473.9 560.7,461.7 568.9,456.0 577.0,444.6 585.1,451.9" fill="none" stroke="#111" stroke-width="0.75" stroke-opacity="0.8" stroke-linejoin="round"/>
<polyline points="83.6,434.0 91.7,433.0 99.9,434.0 108.0,439.7 119.4,447.5 127.5,443.8 135.6,441.4 143.7,442.2 151.9,439.0 160.0,433.2 168.1,426.7 176.2,426.0 184.4,431.6 194.1,435.7 201.4,438.4 208.0,437.3 216.1,433.2 224.2,432.4 232.4,428.4 240.5,425.0 248.6,421.0 256.7,418.6 264.9,420.2 274.6,420.0 282.7,417.8 290.9,418.6 299.0,420.2 307.1,420.2 315.2,419.4 323.4,419.4 331.5,425.0 334.0,427.6 340.5,434.0 348.6,439.7 356.7,445.4 364.9,450.3 373.0,452.7 381.1,452.0 389.2,447.0 397.4,442.2 405.5,435.7 413.6,430.0 421.7,429.7 429.9,430.8 438.0,439.0 446.1,444.6 454.2,451.1 460.0,450.3 468.1,444.6 478.7,435.7 486.8,426.7 494.9,419.4 503.1,414.6 512.0,419.4 520.1,426.7 528.2,435.7 536.4,443.8 544.5,452.0 552.6,460.9 560.7,465.0 568.9,465.0 577.0,461.7 585.1,459.6" fill="none" stroke="#b84848" stroke-width="0.8" stroke-opacity="0.9" stroke-linejoin="round"/>
<rect x="82.9" y="49.9" width="1.7" height="439.6" fill="#8a8a8a"/>
<rect x="82.9" y="49.9" width="633.2" height="1.6" fill="#8f8f8f"/>
<rect x="714.2" y="49.9" width="1.9" height="439.6" fill="#a2a2a2"/>
<rect x="82.9" y="487.9" width="633.2" height="1.7" fill="#929292"/>
<rect x="84" y="323" width="631" height="1.5" fill="#7a7a7a"/>
<rect x="84" y="324.5" width="631" height="0.8" fill="#c8c8c8"/>
<rect x="84" y="406" width="631" height="1.4" fill="#5a5a5a"/>
<text x="85.8" y="56.8" font-size="4.75" fill="#111" text-anchor="start" font-weight="normal" >EURUSD,M15&#160;&#160;1.36719 1.36762 1.36683 1.36710</text>
<text x="85.6" y="331.3" font-size="4.75" fill="#111" text-anchor="start" font-weight="normal" >Returns -0.4487 -0.0571 0.1956 0.2385 -0.0873 0.0649 -0.0136</text>
<text x="85.6" y="414" font-size="4.75" fill="#111" text-anchor="start" font-weight="normal" >H1 Returns -0.0972 0.2442 0.4844 -0.2824 0.3746 0.3515 0.3638</text>
<text x="85.2" y="486" font-size="5.15" fill="#111" text-anchor="start" font-weight="normal" >MetaTrader, &#169; 2001-2009 MetaQuotes Software Corp.</text>
<rect x="716" y="59.8" width="1" height="0.9" fill="#444"/>
<text x="717.9" y="62.1" font-size="4.55" fill="#000" text-anchor="start" font-weight="normal" stroke="#000" stroke-width="0.1">1.37355</text>
<rect x="716" y="76.1" width="1" height="0.9" fill="#444"/>
<text x="717.9" y="78.4" font-size="4.55" fill="#000" text-anchor="start" font-weight="normal" stroke="#000" stroke-width="0.1">1.37180</text>
<rect x="716" y="92.4" width="1" height="0.9" fill="#444"/>
<text x="717.9" y="94.7" font-size="4.55" fill="#000" text-anchor="start" font-weight="normal" stroke="#000" stroke-width="0.1">1.37000</text>
<rect x="716" y="108.8" width="1" height="0.9" fill="#444"/>
<text x="717.9" y="111.1" font-size="4.55" fill="#000" text-anchor="start" font-weight="normal" stroke="#000" stroke-width="0.1">1.36825</text>
<rect x="716" y="125.1" width="1" height="0.9" fill="#444"/>
<text x="717.9" y="127.4" font-size="4.55" fill="#000" text-anchor="start" font-weight="normal" stroke="#000" stroke-width="0.1">1.36650</text>
<rect x="716" y="141.4" width="1" height="0.9" fill="#444"/>
<text x="717.9" y="143.7" font-size="4.55" fill="#000" text-anchor="start" font-weight="normal" stroke="#000" stroke-width="0.1">1.36475</text>
<rect x="716" y="157.7" width="1" height="0.9" fill="#444"/>
<text x="717.9" y="160.0" font-size="4.55" fill="#000" text-anchor="start" font-weight="normal" stroke="#000" stroke-width="0.1">1.36300</text>
<rect x="716" y="174.0" width="1" height="0.9" fill="#444"/>
<text x="717.9" y="176.3" font-size="4.55" fill="#000" text-anchor="start" font-weight="normal" stroke="#000" stroke-width="0.1">1.36120</text>
<rect x="716" y="190.4" width="1" height="0.9" fill="#444"/>
<text x="717.9" y="192.7" font-size="4.55" fill="#000" text-anchor="start" font-weight="normal" stroke="#000" stroke-width="0.1">1.35945</text>
<rect x="716" y="206.7" width="1" height="0.9" fill="#444"/>
<text x="717.9" y="209.0" font-size="4.55" fill="#000" text-anchor="start" font-weight="normal" stroke="#000" stroke-width="0.1">1.35770</text>
<rect x="716" y="223.0" width="1" height="0.9" fill="#444"/>
<text x="717.9" y="225.3" font-size="4.55" fill="#000" text-anchor="start" font-weight="normal" stroke="#000" stroke-width="0.1">1.35595</text>
<rect x="716" y="239.3" width="1" height="0.9" fill="#444"/>
<text x="717.9" y="241.6" font-size="4.55" fill="#000" text-anchor="start" font-weight="normal" stroke="#000" stroke-width="0.1">1.35420</text>
<rect x="716" y="255.6" width="1" height="0.9" fill="#444"/>
<text x="717.9" y="257.9" font-size="4.55" fill="#000" text-anchor="start" font-weight="normal" stroke="#000" stroke-width="0.1">1.35240</text>
<rect x="716" y="272.0" width="1" height="0.9" fill="#444"/>
<text x="717.9" y="274.3" font-size="4.55" fill="#000" text-anchor="start" font-weight="normal" stroke="#000" stroke-width="0.1">1.35065</text>
<rect x="716" y="288.3" width="1" height="0.9" fill="#444"/>
<text x="717.9" y="290.6" font-size="4.55" fill="#000" text-anchor="start" font-weight="normal" stroke="#000" stroke-width="0.1">1.34890</text>
<rect x="716" y="304.6" width="1" height="0.9" fill="#444"/>
<text x="717.9" y="306.9" font-size="4.55" fill="#000" text-anchor="start" font-weight="normal" stroke="#000" stroke-width="0.1">1.34715</text>
<rect x="716" y="320.9" width="1" height="0.9" fill="#444"/>
<text x="717.9" y="323.2" font-size="4.55" fill="#000" text-anchor="start" font-weight="normal" stroke="#000" stroke-width="0.1">1.34540</text>
<rect x="716" y="117.3" width="18" height="5.4" fill="#111"/>
<text x="718.2" y="121.7" font-size="4.5" fill="#fff" text-anchor="start" font-weight="normal" >1.36718</text>
<text x="716.8" y="330.4" font-size="4.6" fill="#000" text-anchor="start" font-weight="normal" stroke="#000" stroke-width="0.08">1</text>
<text x="716.8" y="346.8" font-size="4.6" fill="#000" text-anchor="start" font-weight="normal" stroke="#000" stroke-width="0.08">0.5</text>
<circle cx="717.5" cy="365.3" r="1.05" fill="#222"/>
<text x="718.7" y="367.1" font-size="4.6" fill="#000" text-anchor="start" font-weight="normal" stroke="#000" stroke-width="0.08">0.00</text>
<text x="716.8" y="387.3" font-size="4.6" fill="#000" text-anchor="start" font-weight="normal" stroke="#000" stroke-width="0.08">-0.5</text>
<text x="716.8" y="405.0" font-size="4.6" fill="#000" text-anchor="start" font-weight="normal" stroke="#000" stroke-width="0.08">-1</text>
<text x="716.8" y="413.0" font-size="4.6" fill="#000" text-anchor="start" font-weight="normal" stroke="#000" stroke-width="0.08">1</text>
<text x="716.8" y="430.3" font-size="4.6" fill="#000" text-anchor="start" font-weight="normal" stroke="#000" stroke-width="0.08">0.5</text>
<circle cx="717.5" cy="448.0" r="1.05" fill="#222"/>
<text x="718.7" y="449.8" font-size="4.6" fill="#000" text-anchor="start" font-weight="normal" stroke="#000" stroke-width="0.08">0.00</text>
<text x="716.8" y="469.8" font-size="4.6" fill="#000" text-anchor="start" font-weight="normal" stroke="#000" stroke-width="0.08">-0.5</text>
<text x="716.8" y="487.4" font-size="4.6" fill="#000" text-anchor="start" font-weight="normal" stroke="#000" stroke-width="0.08">-1</text>
<rect x="83.7" y="489" width="0.8" height="1.6" fill="#555"/>
<text x="84.2" y="495.8" font-size="4.75" fill="#222" text-anchor="start" font-weight="normal" >17 Nov 2010</text>
<rect x="116.5" y="489" width="0.8" height="1.6" fill="#555"/>
<text x="117.0" y="495.8" font-size="4.75" fill="#222" text-anchor="start" font-weight="normal" >17 Nov 13:30</text>
<rect x="149.3" y="489" width="0.8" height="1.6" fill="#555"/>
<text x="149.8" y="495.8" font-size="4.75" fill="#222" text-anchor="start" font-weight="normal" >17 Nov 17:30</text>
<rect x="182.1" y="489" width="0.8" height="1.6" fill="#555"/>
<text x="182.6" y="495.8" font-size="4.75" fill="#222" text-anchor="start" font-weight="normal" >17 Nov 21:30</text>
<rect x="214.9" y="489" width="0.8" height="1.6" fill="#555"/>
<text x="215.4" y="495.8" font-size="4.75" fill="#222" text-anchor="start" font-weight="normal" >18 Nov 01:30</text>
<rect x="247.7" y="489" width="0.8" height="1.6" fill="#555"/>
<text x="248.2" y="495.8" font-size="4.75" fill="#222" text-anchor="start" font-weight="normal" >18 Nov 05:30</text>
<rect x="280.5" y="489" width="0.8" height="1.6" fill="#555"/>
<text x="281.0" y="495.8" font-size="4.75" fill="#222" text-anchor="start" font-weight="normal" >18 Nov 09:30</text>
<rect x="313.3" y="489" width="0.8" height="1.6" fill="#555"/>
<text x="313.8" y="495.8" font-size="4.75" fill="#222" text-anchor="start" font-weight="normal" >18 Nov 13:30</text>
<rect x="346.1" y="489" width="0.8" height="1.6" fill="#555"/>
<text x="346.6" y="495.8" font-size="4.75" fill="#222" text-anchor="start" font-weight="normal" >18 Nov 17:30</text>
<rect x="378.9" y="489" width="0.8" height="1.6" fill="#555"/>
<text x="379.4" y="495.8" font-size="4.75" fill="#222" text-anchor="start" font-weight="normal" >18 Nov 21:30</text>
<rect x="411.7" y="489" width="0.8" height="1.6" fill="#555"/>
<text x="412.2" y="495.8" font-size="4.75" fill="#222" text-anchor="start" font-weight="normal" >19 Nov 01:30</text>
<rect x="444.5" y="489" width="0.8" height="1.6" fill="#555"/>
<text x="445.0" y="495.8" font-size="4.75" fill="#222" text-anchor="start" font-weight="normal" >19 Nov 05:30</text>
<rect x="477.3" y="489" width="0.8" height="1.6" fill="#555"/>
<text x="477.8" y="495.8" font-size="4.75" fill="#222" text-anchor="start" font-weight="normal" >19 Nov 09:30</text>
<rect x="510.1" y="489" width="0.8" height="1.6" fill="#555"/>
<text x="510.6" y="495.8" font-size="4.75" fill="#222" text-anchor="start" font-weight="normal" >19 Nov 13:30</text>
<rect x="542.9" y="489" width="0.8" height="1.6" fill="#555"/>
<text x="543.4" y="495.8" font-size="4.75" fill="#222" text-anchor="start" font-weight="normal" >19 Nov 17:30</text>
<rect x="575.7" y="489" width="0.8" height="1.6" fill="#555"/>
<text x="576.2" y="495.8" font-size="4.75" fill="#222" text-anchor="start" font-weight="normal" >19 Nov 21:30</text>
<text x="691" y="57.6" font-size="4.7" fill="#000" text-anchor="start" font-weight="normal" >eClock</text>
<path d="M710.2 54.6l2.6 2.6m0-2.6l-2.6 2.6" stroke="#111" stroke-width="1.2" fill="none"/>
<text x="622" y="66.2" font-size="7.3" fill="#9acd32" text-anchor="start" font-weight="bold" textLength="27.6" lengthAdjust="spacingAndGlyphs">EURUSD</text>
<text x="680.4" y="67.2" font-size="8.8" font-weight="bold" textLength="29.3" lengthAdjust="spacingAndGlyphs"><tspan fill="#9acd32">1.3671</tspan><tspan fill="#8aa070">8</tspan></text>
<rect x="622" y="68.3" width="87.8" height="0.7" fill="#9a9a9a"/>
<rect x="622" y="92.10000000000001" width="87.8" height="0.7" fill="#9a9a9a"/>
<rect x="622" y="105.9" width="87.8" height="0.7" fill="#9a9a9a"/>
<text x="682" y="75.8" font-size="6.6" fill="#9a9a9a" text-anchor="end" font-weight="normal" >change/range :</text>
<text x="709.6" y="75.8" font-size="6.5" fill="#f7d117" text-anchor="end" font-weight="bold" >29/123</text>
<text x="682" y="82" font-size="6.6" fill="#9a9a9a" text-anchor="end" font-weight="normal" >distance from high :</text>
<text x="709.6" y="82" font-size="6.5" fill="#9acd32" text-anchor="end" font-weight="bold" >59</text>
<text x="682" y="88.2" font-size="6.6" fill="#9a9a9a" text-anchor="end" font-weight="normal" >distance from low :</text>
<text x="709.6" y="88.2" font-size="6.5" fill="#9acd32" text-anchor="end" font-weight="bold" >64</text>
<text x="682" y="98.4" font-size="6.6" fill="#9a9a9a" text-anchor="end" font-weight="normal" >swap long :</text>
<text x="709.6" y="98.4" font-size="6.5" fill="#9acd32" text-anchor="end" font-weight="bold" >-0.40</text>
<text x="682" y="104.7" font-size="6.6" fill="#9a9a9a" text-anchor="end" font-weight="normal" >swap short :</text>
<text x="709.6" y="104.7" font-size="6.5" fill="#9acd32" text-anchor="end" font-weight="bold" >-2.70</text>
<text x="610.6" y="119" font-size="6.3" fill="#f7d117" text-anchor="start" font-weight="bold" >21:36</text>
<rect x="48.2" y="528.8" width="800" height="51.8" fill="none" stroke="#c2c2c2" stroke-width="0.7" stroke-dasharray="1.5 1.5"/>
<text x="42.2" y="13.7" font-size="7.3" fill="#4a5a98" font-weight="normal" textLength="48.6" lengthAdjust="spacingAndGlyphs" stroke="#4a5a98" stroke-width="0.22">Младен Ракич</text>
<text x="95.8" y="13.9" font-size="5.4" fill="#606060" font-weight="normal" textLength="43" lengthAdjust="spacingAndGlyphs" stroke="#606060" stroke-width="0.12">2010.11.20 12:40</text>
<text x="143.7" y="13.9" font-size="7.1" fill="#4a5a98" font-weight="normal" textLength="20.4" lengthAdjust="spacingAndGlyphs" stroke="#4a5a98" stroke-width="0.18"># 2336</text>
<text x="42.2" y="25.5" font-size="7.1" fill="#666" font-weight="normal" textLength="24.2" lengthAdjust="spacingAndGlyphs" stroke="#666" stroke-width="0.15">Apeiron</text>
<text x="42.2" y="40.3" font-size="7.1" fill="#555" font-weight="normal" textLength="20.4" lengthAdjust="spacingAndGlyphs" stroke="#555" stroke-width="0.15">Ну вот</text>
<text x="41.9" y="512.6" font-size="6.9" fill="#555" font-weight="normal" textLength="43.1" lengthAdjust="spacingAndGlyphs" >С уважением</text>
<text x="41.9" y="520.8" font-size="6.9" fill="#555" font-weight="normal" textLength="25.2" lengthAdjust="spacingAndGlyphs" >Младен</text>
<text x="54.8" y="541.9" font-size="6.9" fill="#4a5a98" font-weight="bold" textLength="28.5" lengthAdjust="spacingAndGlyphs" >Apeiron:</text>
<text x="54.8" y="550.4" font-size="6.9" fill="#666" font-weight="normal" textLength="52.9" lengthAdjust="spacingAndGlyphs" >Привет, Младен</text>
<text x="54.8" y="558.7" font-size="6.9" fill="#666" font-weight="normal" textLength="51.9" lengthAdjust="spacingAndGlyphs" >MultiTimeFrame</text>
<text x="54.8" y="573.3" font-size="6.9" fill="#666" font-weight="normal" textLength="34.1" lengthAdjust="spacingAndGlyphs" >благодаря</text>
<text x="42.1" y="596.6" font-size="6.9" fill="#555" font-weight="normal" textLength="25" lengthAdjust="spacingAndGlyphs" >файлы:</text>
<text x="81" y="596.6" font-size="7.1" fill="#4869a6" font-weight="normal" textLength="57.4" lengthAdjust="spacing" >2_wpr_-_mtf.gif</text>
<rect x="81" y="597.4" width="57.4" height="0.6" fill="#6f8cc0"/>
<text x="151.9" y="596.6" font-size="5.5" fill="#777" font-weight="normal" textLength="14.5" lengthAdjust="spacingAndGlyphs" >36 kb</text>
<text x="81" y="609.9" font-size="7.1" fill="#4869a6" font-weight="normal" textLength="52.1" lengthAdjust="spacing" >3wpr__mtf.mq4</text>
<rect x="81" y="610.8" width="52.1" height="0.6" fill="#6f8cc0"/>
<text x="146.3" y="609.9" font-size="5.5" fill="#777" font-weight="normal" textLength="11.3" lengthAdjust="spacingAndGlyphs" >8 kb</text>
<!-- file icons -->
<rect x="72.6" y="590.2" width="3.4" height="1.6" rx="0.5" fill="#7d6c5c"/><rect x="70.6" y="591.3" width="7.4" height="5.5" rx="0.9" fill="#a5552a"/><rect x="72.9" y="592.7" width="2.9" height="2.6" fill="#f3e6d6"/>
<rect x="72.6" y="604.1" width="3.4" height="1.6" rx="0.5" fill="#8c9ba8"/><rect x="70.6" y="605.1" width="7.4" height="5.4" rx="0.9" fill="#2f6f9f"/><rect x="71.9" y="606.3" width="4.8" height="3.1" fill="#dbe9f3"/><path d="M71.9 607.4h4.8M71.9 608.5h4.8" stroke="#5f8fb8" stroke-width="0.4"/>
</svg>
</body></html>
